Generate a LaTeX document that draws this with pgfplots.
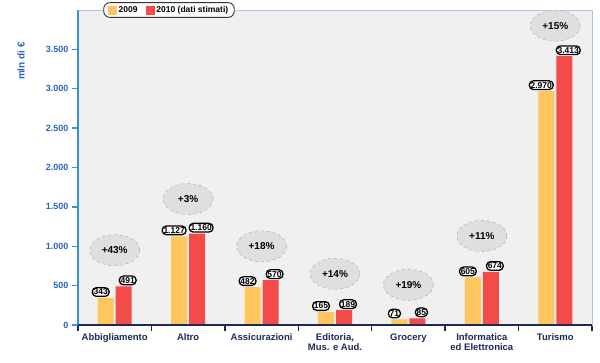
\documentclass[border=0pt]{standalone}
\usepackage{fontspec}
\setmainfont{Liberation Sans}
\usepackage{pgfplots}
\pgfplotsset{compat=1.18}
\usetikzlibrary{shapes.geometric}
\definecolor{cYel}{HTML}{FFC65E}
\definecolor{cRed}{HTML}{F34A4A}
\definecolor{bgG}{HTML}{F0F0F0}
\definecolor{axBlue}{HTML}{3D8FE0}
\definecolor{lblBlue}{HTML}{2A63C8}
\definecolor{navy}{HTML}{1C2A55}
\definecolor{frameBlue}{HTML}{A8C8EA}
\tikzset{
  vlab/.style={draw=black, line width=1.3pt, rounded corners=4pt, fill=white, inner sep=1.3pt, font=\fontsize{8.5}{9}\selectfont\bfseries, text=black},
  pct/.style={ellipse, draw=gray!70, dashed, fill=gray!25, minimum width=50pt, minimum height=31pt, inner sep=0pt, font=\fontsize{10}{11}\selectfont\bfseries}
}
\begin{document}
\begin{tikzpicture}
\begin{axis}[
  at={(0,0)}, anchor=south west,
  scale only axis, width=514pt, height=315pt,
  xmin=-0.5, xmax=6.5, ymin=0, ymax=4000,
  clip=false,
  ybar, bar width=16pt,
  axis background/.style={fill=bgG},
  axis line style={draw=frameBlue, line width=0.8pt},
  xtick={0,...,6},
  xticklabels={Abbigliamento, Altro, Assicurazioni, {Editoria,\\Mus. e Aud.}, Grocery, {Informatica\\ed Elettronica}, Turismo},
  xticklabel style={align=center, font=\fontsize{9.5}{10.5}\selectfont\bfseries, text=navy, yshift=1pt},
  major x tick style={draw=none},
  minor xtick={-0.5,0.5,...,6.5},
  minor x tick style={draw=navy, line width=1.3pt},
  minor tick length=6pt,
  ytick={0,500,...,3500},
  y tick style={draw=axBlue, line width=1.3pt},
  major tick length=6pt,
  tick align=outside,
  xtick pos=bottom, ytick pos=left,
  yticklabel style={font=\fontsize{9}{10}\selectfont\bfseries, text=lblBlue},
  /pgf/number format/assume math mode=true,
  /pgf/number format/1000 sep={.},
  scaled y ticks=false,
  nodes near coords,
  every node near coord/.append style={vlab, /pgf/number format/1000 sep={.}},
  legend style={at={(rel axis cs:0.177,1.0)}, anchor=center, draw=black!80, rounded corners=6pt, fill=white, line width=0.9pt,
    font=\fontsize{8.5}{9}\selectfont\bfseries, legend columns=2, inner xsep=4pt, inner ysep=1.5pt,
    /tikz/every even column/.append style={column sep=6pt}},
  legend cell align=left,
]
\addlegendimage{legend image code/.code={\fill[cYel, sharp corners] (0pt,-4pt) rectangle (8pt,4pt);}}
\addlegendimage{legend image code/.code={\fill[cRed, sharp corners] (0pt,-4pt) rectangle (8pt,4pt);}}
\addplot[forget plot, bar shift=-9pt, fill=cYel, draw=none, every node near coord/.append style={xshift=-5pt, yshift=1pt}] coordinates {(0,343) (1,1127) (2,482) (3,165) (4,71) (5,605) (6,2970)};
\addplot[forget plot, bar shift=9pt, fill=cRed, draw=none, every node near coord/.append style={xshift=4pt, yshift=1pt}] coordinates {(0,491) (1,1160) (2,570) (3,189) (4,85) (5,674) (6,3413)};
\legend{2009, 2010 (dati stimati)}
\draw[axBlue, line width=1.8pt] (rel axis cs:0,0) -- (rel axis cs:0,1);
\draw[navy, line width=1.8pt] (rel axis cs:0,0) -- (rel axis cs:1,0);
\node[pct] at (axis cs:0,950) {+43\%};
\node[pct] at (axis cs:1,1600) {+3\%};
\node[pct] at (axis cs:2,1000) {+18\%};
\node[pct] at (axis cs:3,650) {+14\%};
\node[pct] at (axis cs:4,510) {+19\%};
\node[pct] at (axis cs:5,1130) {+11\%};
\node[pct] at (axis cs:6,3800) {+15\%};
\node[rotate=90, font=\fontsize{10}{11}\selectfont\bfseries, text=lblBlue] at (-57pt,264pt) {mln di €};
\end{axis}
\pgfresetboundingbox
\path (-78pt,-37pt) rectangle (522pt,325pt);
\end{tikzpicture}
\end{document}
